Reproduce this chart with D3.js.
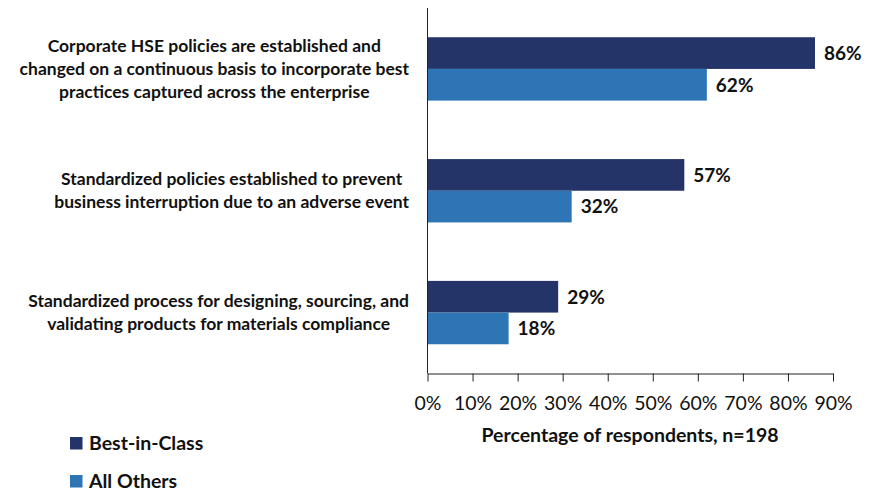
<!DOCTYPE html>
<html><head><meta charset="utf-8">
<script src="https://cdn.jsdelivr.net/npm/d3@7"></script>
<style>body{margin:0;background:#fff}</style>
</head><body>
<svg id="chart" width="875" height="491"></svg>
<script>
const categories = [
  ["Corporate HSE policies are established and","changed on a continuous basis to incorporate best","practices captured across the enterprise"],
  ["Standardized policies established to prevent","business interruption due to an adverse event"],
  ["Standardized process for designing, sourcing, and","validating products for materials compliance"]
];
const seriesNames = ["Best-in-Class","All Others"];
const bestInClass = [86, 57, 29];
const allOthers = [62, 32, 18];
const tickValues = [0,10,20,30,40,50,60,70,80,90];
const colors = ["#243468","#2E75B6"];
const FONT = "Lato, 'Open Sans', sans-serif";

const svg = d3.select("#chart");
const x = d3.scaleLinear().domain([0,90]).range([427.5,833]);
const y = d3.scaleBand().domain(d3.range(categories.length)).range([8,373.5]).paddingInner(0.48).paddingOuter(0.24);
const sub = d3.scaleBand().domain([0,1]).range([0,y.bandwidth()]);

const data = categories.map((c,i)=>({i, vals:[bestInClass[i], allOthers[i]]}));

const g = svg.append("g");
data.forEach(d=>{
  d.vals.forEach((v,s)=>{
    g.append("rect")
      .attr("x", x(0)).attr("y", y(d.i)+sub(s))
      .attr("width", x(v)-x(0)).attr("height", sub.bandwidth())
      .attr("fill", colors[s]);
    g.append("text")
      .attr("x", x(v)+9).attr("y", y(d.i)+sub(s)+sub.bandwidth()/2)
      .attr("dy","0.36em")
      .attr("font-family",FONT).attr("font-weight","bold").attr("font-size",19)
      .attr("fill","#111").text(v+"%");
  });
});

// axes
const xAxis = d3.axisBottom(x).tickValues(tickValues).tickFormat(d=>d+"%").tickSize(8).tickSizeOuter(0);
const ax = svg.append("g").attr("transform","translate(0,373.5)").call(xAxis);
ax.select(".domain").attr("stroke","#222");
ax.selectAll(".tick line").attr("stroke","#222");
ax.selectAll(".tick text").attr("font-family",FONT).attr("font-size",19.5).attr("fill","#111").attr("y",0).attr("dy","0").attr("transform","translate(0,36.5)");

svg.append("line").attr("x1",427.5).attr("x2",427.5).attr("y1",8).attr("y2",373.5).attr("stroke","#222");

// category labels
const rightEdge = 409;
categories.forEach((lines,i)=>{
  const cy = y(i)+y.bandwidth()/2;
  const lh = 23;
  const tg = svg.append("g");
  const texts = lines.map((l,k)=>tg.append("text")
    .attr("y", cy + (k-(lines.length-1)/2)*lh).attr("dy","0.35em")
    .attr("font-family",FONT).attr("font-weight","bold").attr("font-size",17.5)
    .attr("fill","#111").attr("text-anchor","middle").text(l));
  const maxW = d3.max(texts, t=>t.node().getComputedTextLength());
  texts.forEach(t=>t.attr("x", rightEdge - maxW/2));
});

// axis title
svg.append("text").attr("x",630).attr("y",435).attr("dy","0.35em")
  .attr("text-anchor","middle").attr("font-family",FONT).attr("font-weight","bold")
  .attr("font-size",19.5).attr("fill","#111").text("Percentage of respondents, n=198");

// legend
seriesNames.forEach((n,s)=>{
  const ly = 443 + s*38;
  svg.append("rect").attr("x",70).attr("y",ly-6).attr("width",12.5).attr("height",12.5).attr("fill",colors[s]);
  svg.append("text").attr("x",89).attr("y",ly).attr("dy","0.35em")
    .attr("font-family",FONT).attr("font-weight","bold").attr("font-size",19.5).attr("fill","#111").text(n);
});
</script>
</body></html>
